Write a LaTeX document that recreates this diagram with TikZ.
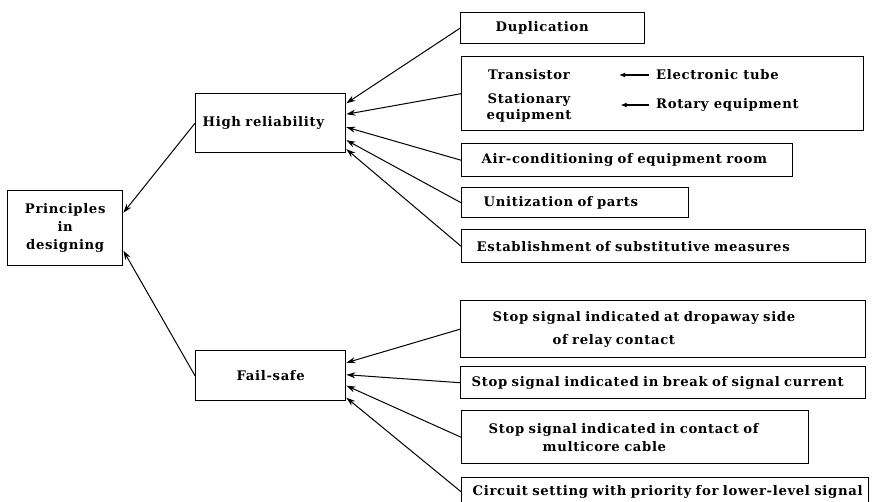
\documentclass[tikz,border=0pt]{standalone}
\usepackage{fontspec}
\setmainfont{DejaVu Serif}[LetterSpace=5]
\usetikzlibrary{arrows.meta}

\tikzset{
  box/.style 2 args={draw=black, line width=1.4pt, anchor=north west,
    align=left, inner sep=0pt, text width=#1pt, minimum height=#2pt},
  txt/.style={inner sep=1pt},
  arc/.style={-{Stealth[length=9pt,width=6pt]}, line width=1pt},
  repl/.style={-{Latex[length=6pt,width=5pt]}, line width=1.3pt},
}

\begin{document}
\begin{tikzpicture}[x=1pt, y=-1pt, font=\bfseries\fontsize{13.2}{18}\selectfont]
  \useasboundingbox (0,0) rectangle (877,501);

  % Boxes
  \node[box={115}{75}, align=center] (prin) at (7,190)
    {Principles\\in\\designing};
  \node[box={150}{59}] (hr) at (195,93)
    {\hspace*{7pt}High reliability};
  \node[box={150}{50}, align=center] (fs) at (195,350)
    {Fail-safe};

  \node[box={184}{31}] (dup) at (460,12)
    {\hspace*{35pt}Duplication};
  \node[box={402}{74}] (trans) at (461,56) {};
  \node[box={331}{33}] (air) at (461,143)
    {\hspace*{20pt}Air-conditioning of equipment room};
  \node[box={227}{30}] (unit) at (461,187)
    {\hspace*{22pt}Unitization of parts};
  \node[box={404}{33}] (est) at (461,229)
    {\hspace*{15pt}Establishment of substitutive measures};

  \node[box={405}{57}] (relay) at (460,300)
    {\hspace*{32pt}Stop signal indicated at dropaway side\\[5pt]
     \hspace*{92pt}of relay contact};
  \node[box={405}{32}] (brk) at (460,366)
    {\hspace*{11pt}Stop signal indicated in break of signal current};
  \node[box={347}{53}] (multi) at (461,410)
    {\hspace*{27pt}Stop signal indicated in contact of\\
     \hspace*{81pt}multicore cable};
  \node[box={407}{28}] (circ) at (461,477)
    {\mbox{\hspace*{11pt}Circuit setting with priority for lower-level signal}};

  % Inside the replacement box
  \node[txt, anchor=west] (tr1) at (487,75) {Transistor};
  \node[txt, align=center] (tr2) at (529,108) {Stationary\\[-2pt]equipment};
  \node[txt, anchor=west] (tube) at (655,75) {Electronic tube};
  \node[txt, anchor=west] (rot) at (655,105) {Rotary equipment};
  \draw[repl, shorten <=6pt, shorten >=48pt] (tube.west) -- (tube.west -| tr1.east);
  \draw[repl, shorten <=6pt, shorten >=48pt] (rot.west) -- (rot.west -| tr2.east);

  % Arcs
  \draw[arc] (hr.west) -- ([yshift=15.5pt]prin.east);
  \draw[arc] (fs.west) -- ([yshift=-22.5pt]prin.east);

  \draw[arc] (dup.west) -- ([yshift=20pt]hr.east);
  \draw[arc] (trans.west) -- ([yshift=9pt]hr.east);
  \draw[arc] (air.west) -- ([yshift=-4pt]hr.east);
  \draw[arc] (unit.west) -- ([yshift=-17pt]hr.east);
  \draw[arc] (est.west) -- ([yshift=-26pt]hr.east);

  \draw[arc] (relay.west) -- ([yshift=13pt]fs.east);
  \draw[arc] (brk.west) -- ([yshift=1pt]fs.east);
  \draw[arc] (multi.west) -- ([yshift=-10pt]fs.east);
  \draw[arc] (circ.west) -- ([yshift=-22pt]fs.east);
\end{tikzpicture}
\end{document}
